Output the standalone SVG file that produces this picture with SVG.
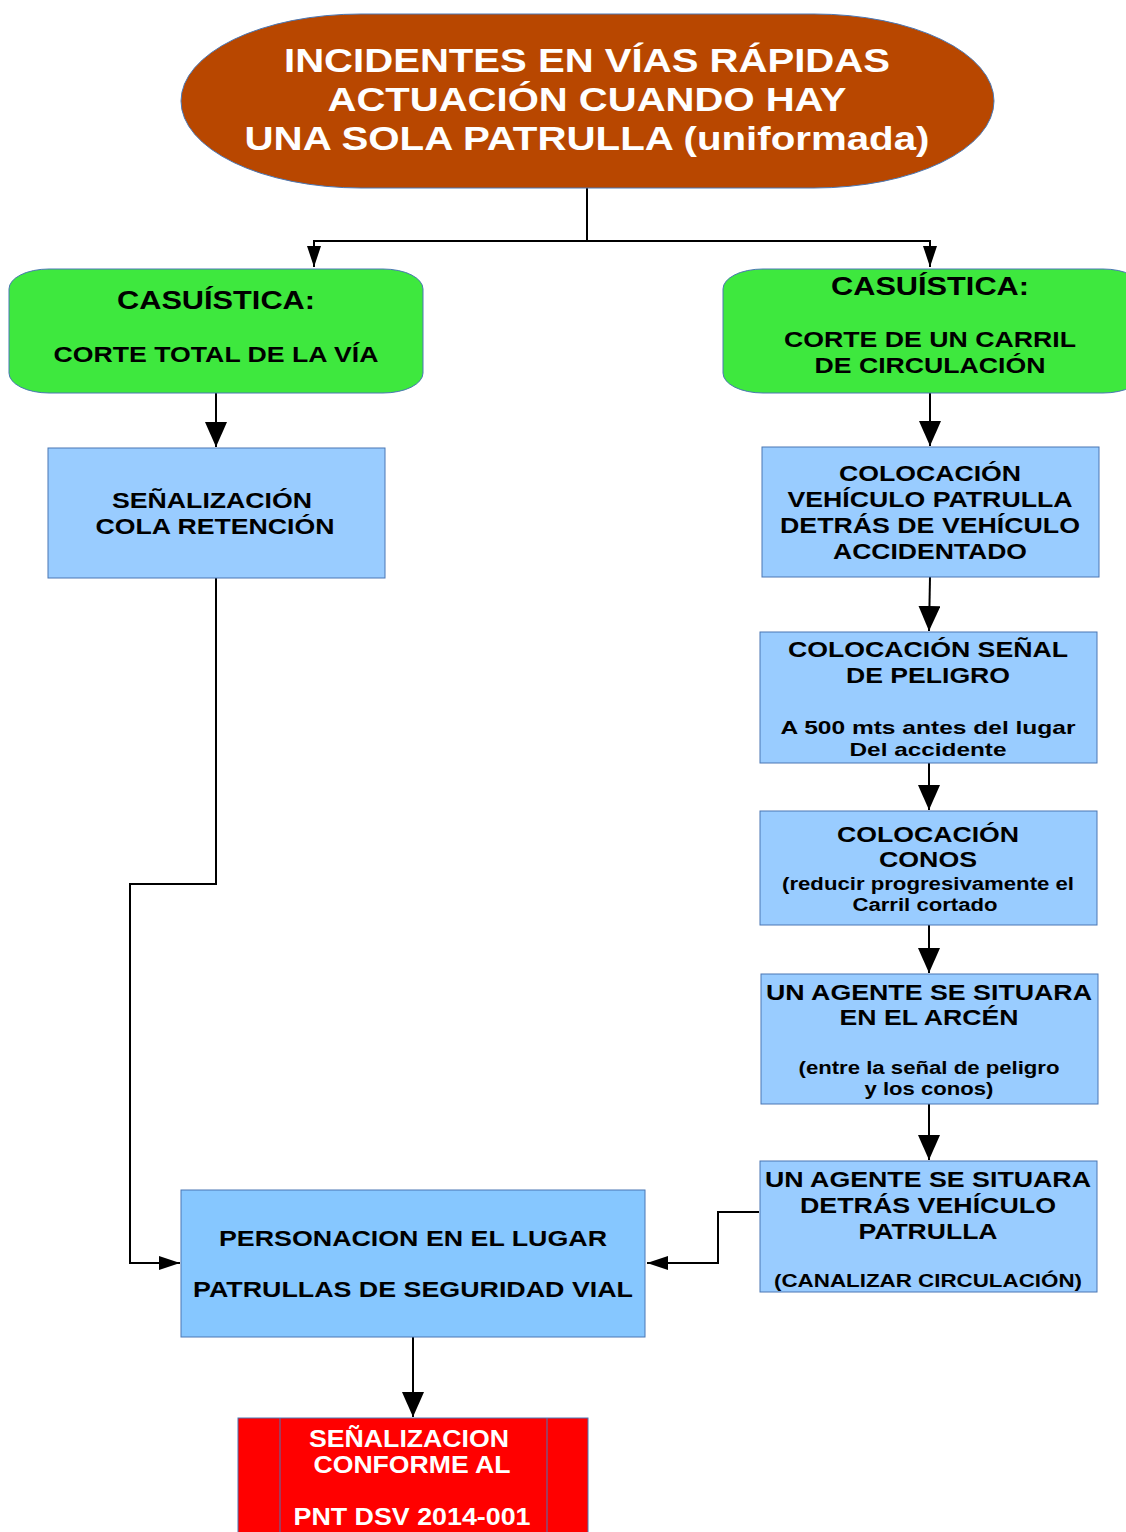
<svg xmlns="http://www.w3.org/2000/svg" width="1126" height="1532" viewBox="0 0 1126 1532">
<defs>
<style>
.t{font-family:"Liberation Sans",Arial,sans-serif;font-weight:bold;text-anchor:middle;fill:#000}
.w{fill:#fff}
.blue{fill:#99ccff;stroke:#4a77b4;stroke-width:1}
.green{fill:#3ee83e;stroke:#4a77b4;stroke-width:1}
.ln{fill:none;stroke:#000;stroke-width:2}
</style>
<marker id="ab" markerUnits="userSpaceOnUse" markerWidth="26" markerHeight="22" refX="25" refY="11" orient="auto" viewBox="0 0 26 22">
<path d="M0,0 L25,11 L0,22 z" fill="#000"/>
</marker>
<marker id="as" markerUnits="userSpaceOnUse" markerWidth="22" markerHeight="16" refX="21" refY="8" orient="auto" viewBox="0 0 22 16">
<path d="M0,1 L21,8 L0,15 z" fill="#000"/>
</marker>
</defs>
<rect width="1126" height="1532" fill="#fff"/>

<g id="connectors">
<polyline class="ln" points="587,188 587,241 314,241 314,267" marker-end="url(#as)"/>
<polyline class="ln" points="587,241 930,241 930,267" marker-end="url(#as)"/>
<line class="ln" x1="216" y1="393" x2="216" y2="447" marker-end="url(#ab)"/>
<polyline class="ln" points="216,578 216,884 130,884 130,1263 180,1263" marker-end="url(#as)"/>
<line class="ln" x1="930" y1="393" x2="930" y2="446" marker-end="url(#ab)"/>
<line class="ln" x1="930" y1="577" x2="929" y2="631" marker-end="url(#ab)"/>
<line class="ln" x1="929" y1="763" x2="929" y2="810" marker-end="url(#ab)"/>
<line class="ln" x1="929" y1="925" x2="929" y2="973" marker-end="url(#ab)"/>
<line class="ln" x1="929" y1="1104" x2="929" y2="1160" marker-end="url(#ab)"/>
<polyline class="ln" points="759,1212 718,1212 718,1263 647,1263" marker-end="url(#as)"/>
<line class="ln" x1="413" y1="1337" x2="413" y2="1417" marker-end="url(#ab)"/>
</g>

<g id="title">
<rect x="181" y="14" width="813" height="174" rx="180" ry="87" fill="#b84700" stroke="#4a77b4" stroke-width="1"/>
<text class="t w" font-size="33" x="587" y="72" textLength="606" lengthAdjust="spacingAndGlyphs">INCIDENTES EN VÍAS RÁPIDAS</text>
<text class="t w" font-size="33" x="587" y="111" textLength="519" lengthAdjust="spacingAndGlyphs">ACTUACIÓN CUANDO HAY</text>
<text class="t w" font-size="33" x="587" y="150" textLength="685" lengthAdjust="spacingAndGlyphs">UNA SOLA PATRULLA (uniformada)</text>
</g>

<g id="caso-total">
<rect class="green" x="9" y="269" width="414" height="124" rx="40" ry="20"/>
<text class="t" font-size="25" x="216" y="309" textLength="198" lengthAdjust="spacingAndGlyphs">CASUÍSTICA:</text>
<text class="t" font-size="21.5" x="216" y="362" textLength="325" lengthAdjust="spacingAndGlyphs">CORTE TOTAL DE LA VÍA</text>
</g>

<g id="caso-carril">
<rect class="green" x="723" y="269" width="420" height="124" rx="40" ry="20"/>
<text class="t" font-size="25" x="930" y="295" textLength="198" lengthAdjust="spacingAndGlyphs">CASUÍSTICA:</text>
<text class="t" font-size="21.5" x="930" y="347" textLength="292" lengthAdjust="spacingAndGlyphs">CORTE DE UN CARRIL</text>
<text class="t" font-size="21.5" x="930" y="373" textLength="231" lengthAdjust="spacingAndGlyphs">DE CIRCULACIÓN</text>
</g>

<g id="senalizacion-cola">
<rect class="blue" x="48" y="448" width="337" height="130"/>
<text class="t" font-size="22" x="212" y="508" textLength="200" lengthAdjust="spacingAndGlyphs">SEÑALIZACIÓN</text>
<text class="t" font-size="22" x="215" y="534" textLength="239" lengthAdjust="spacingAndGlyphs">COLA RETENCIÓN</text>
</g>

<g id="colocacion-vehiculo">
<rect class="blue" x="762" y="447" width="337" height="130"/>
<text class="t" font-size="22" x="930" y="481" textLength="182" lengthAdjust="spacingAndGlyphs">COLOCACIÓN</text>
<text class="t" font-size="22" x="930" y="507" textLength="285" lengthAdjust="spacingAndGlyphs">VEHÍCULO PATRULLA</text>
<text class="t" font-size="22" x="930" y="533" textLength="300" lengthAdjust="spacingAndGlyphs">DETRÁS DE VEHÍCULO</text>
<text class="t" font-size="22" x="930" y="559" textLength="194" lengthAdjust="spacingAndGlyphs">ACCIDENTADO</text>
</g>

<g id="colocacion-senal">
<rect class="blue" x="760" y="632" width="337" height="131"/>
<text class="t" font-size="22" x="928" y="657" textLength="280" lengthAdjust="spacingAndGlyphs">COLOCACIÓN SEÑAL</text>
<text class="t" font-size="22" x="928" y="683" textLength="164" lengthAdjust="spacingAndGlyphs">DE PELIGRO</text>
<text class="t" font-size="19" x="928" y="734" textLength="295" lengthAdjust="spacingAndGlyphs">A 500 mts antes del lugar</text>
<text class="t" font-size="19" x="928" y="756" textLength="157" lengthAdjust="spacingAndGlyphs">Del accidente</text>
</g>

<g id="colocacion-conos">
<rect class="blue" x="760" y="811" width="337" height="114"/>
<text class="t" font-size="22" x="928" y="842" textLength="182" lengthAdjust="spacingAndGlyphs">COLOCACIÓN</text>
<text class="t" font-size="22" x="928" y="867" textLength="98" lengthAdjust="spacingAndGlyphs">CONOS</text>
<text class="t" font-size="18" x="928" y="890" textLength="292" lengthAdjust="spacingAndGlyphs">(reducir progresivamente el</text>
<text class="t" font-size="18" x="925" y="911" textLength="145" lengthAdjust="spacingAndGlyphs">Carril cortado</text>
</g>

<g id="agente-arcen">
<rect class="blue" x="761" y="974" width="337" height="130"/>
<text class="t" font-size="22" x="929" y="1000" textLength="326" lengthAdjust="spacingAndGlyphs">UN AGENTE SE SITUARA</text>
<text class="t" font-size="22" x="929" y="1025" textLength="179" lengthAdjust="spacingAndGlyphs">EN EL ARCÉN</text>
<text class="t" font-size="18" x="929" y="1074" textLength="261" lengthAdjust="spacingAndGlyphs">(entre la señal de peligro</text>
<text class="t" font-size="18" x="929" y="1095" textLength="129" lengthAdjust="spacingAndGlyphs">y los conos)</text>
</g>

<g id="agente-detras">
<rect class="blue" x="760" y="1161" width="337" height="131"/>
<text class="t" font-size="22" x="928" y="1187" textLength="326" lengthAdjust="spacingAndGlyphs">UN AGENTE SE SITUARA</text>
<text class="t" font-size="22" x="928" y="1213" textLength="256" lengthAdjust="spacingAndGlyphs">DETRÁS VEHÍCULO</text>
<text class="t" font-size="22" x="928" y="1239" textLength="139" lengthAdjust="spacingAndGlyphs">PATRULLA</text>
<text class="t" font-size="19" x="928" y="1287" textLength="308" lengthAdjust="spacingAndGlyphs">(CANALIZAR CIRCULACIÓN)</text>
</g>

<g id="personacion">
<rect x="181" y="1190" width="464" height="147" fill="#86c7ff" stroke="#4a77b4" stroke-width="1"/>
<text class="t" font-size="22" x="413" y="1246" textLength="388" lengthAdjust="spacingAndGlyphs">PERSONACION EN EL LUGAR</text>
<text class="t" font-size="22" x="413" y="1297" textLength="440" lengthAdjust="spacingAndGlyphs">PATRULLAS DE SEGURIDAD VIAL</text>
</g>

<g id="senalizacion-pnt">
<rect x="238" y="1418" width="350" height="130" fill="#ff0000" stroke="#4a77b4" stroke-width="1"/>
<line x1="280" y1="1418" x2="280" y2="1532" stroke="#4a77b4" stroke-width="1"/>
<line x1="547" y1="1418" x2="547" y2="1532" stroke="#4a77b4" stroke-width="1"/>
<text class="t w" font-size="23" x="409" y="1447" textLength="200" lengthAdjust="spacingAndGlyphs">SEÑALIZACION</text>
<text class="t w" font-size="23" x="412" y="1473" textLength="197" lengthAdjust="spacingAndGlyphs">CONFORME AL</text>
<text class="t w" font-size="23" x="412" y="1525" textLength="237" lengthAdjust="spacingAndGlyphs">PNT DSV 2014-001</text>
</g>
</svg>
